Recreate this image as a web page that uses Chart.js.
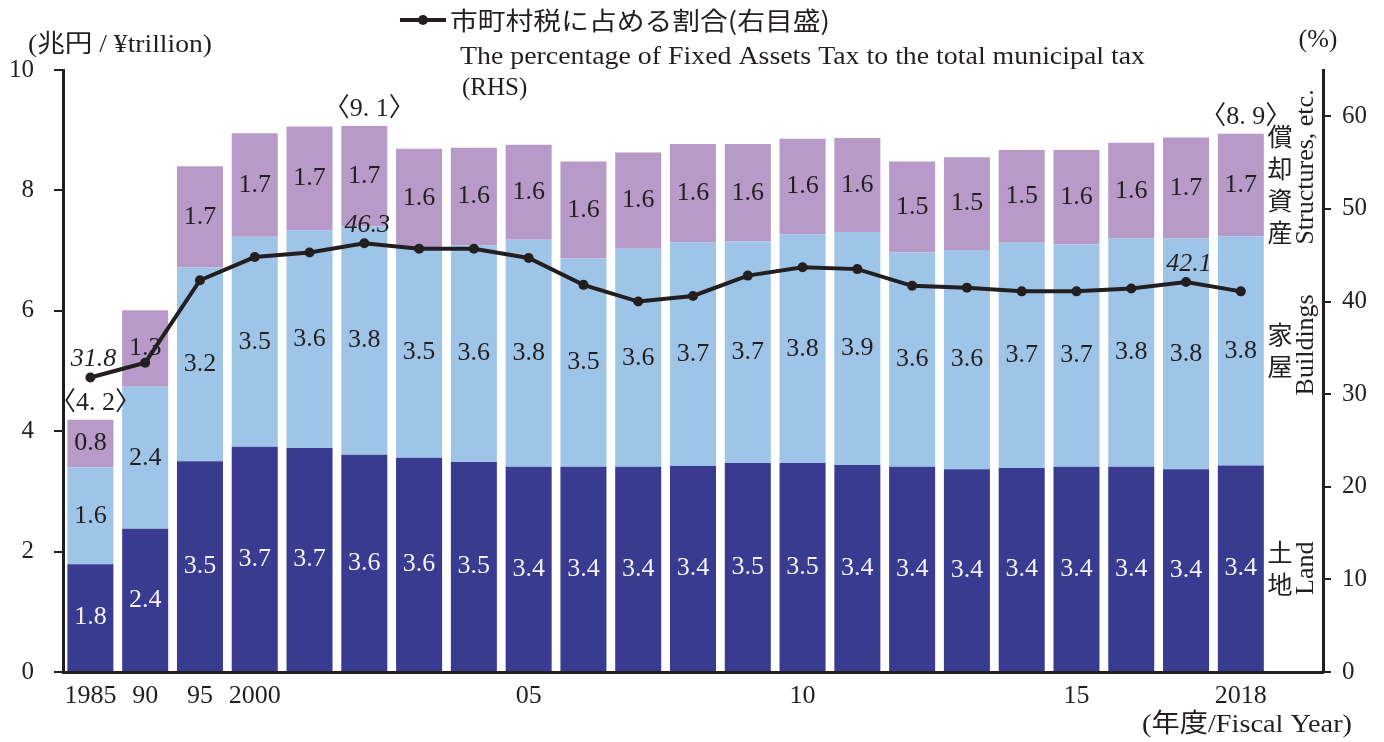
<!DOCTYPE html>
<html>
<head>
<meta charset="utf-8">
<script src="https://cdn.jsdelivr.net/npm/chart.js@4.4.0/dist/chart.umd.min.js"></script>
<style>
  body { margin: 0; background: #fff; }
  #wrap { width: 1384px; height: 742px; }
</style>
</head>
<body>
<div id="wrap"><canvas id="myChart"></canvas></div>
<script>
(function () {
  'use strict'

  // data (兆円 / %)
  var years = [1985, 1990, 1995, 2000, 2001, 2002, 2003, 2004, 2005, 2006, 2007,
    2008, 2009, 2010, 2011, 2012, 2013, 2014, 2015, 2016, 2017, 2018]
  var tickLabels = ['1985', '90', '95', '2000', '', '', '', '', '05', '', '', '',
    '', '10', '', '', '', '', '15', '', '', '2018']
  var land = [1.79, 2.38, 3.50, 3.74, 3.72, 3.61, 3.56, 3.49, 3.41, 3.41, 3.41,
    3.42, 3.47, 3.47, 3.44, 3.41, 3.37, 3.39, 3.41, 3.41, 3.37, 3.43]
  var buildings = [1.61, 2.36, 3.22, 3.49, 3.62, 3.79, 3.49, 3.60, 3.77, 3.46, 3.62,
    3.72, 3.68, 3.80, 3.87, 3.56, 3.64, 3.74, 3.69, 3.79, 3.83, 3.81]
  var structures = [0.79, 1.27, 1.68, 1.72, 1.72, 1.67, 1.64, 1.62, 1.58, 1.61, 1.60,
    1.63, 1.62, 1.59, 1.56, 1.51, 1.54, 1.54, 1.57, 1.59, 1.68, 1.70]
  var share = [31.8, 33.4, 42.3, 44.8, 45.3, 46.3, 45.7, 45.7, 44.7, 41.8, 40.0,
    40.6, 42.8, 43.7, 43.5, 41.7, 41.5, 41.1, 41.1, 41.4, 42.1, 41.1]
  var totalNoteIdx = [0, 5, 21]
  var shareNoteIdx = [0, 5, 20]
  var yTicksLeft = [0, 2, 4, 6, 8, 10]
  var yTicksRight = [0, 10, 20, 30, 40, 50, 60]

  var INK = '#231f20'
  var SERIF = '"Liberation Serif", "Noto Sans CJK JP", serif'
  var JP = '"Noto Sans CJK JP", sans-serif'

  // one empty slot after 2018 for the side captions
  var labels = tickLabels.concat([''])

  // draw text squeezed/stretched to a given width
  function fitText(c, s, x, y, w) {
    var m = c.measureText(s).width
    c.save()
    c.translate(x, y)
    c.scale(w / m, 1)
    c.fillText(s, 0, 0)
    c.restore()
  }

  var overlay = {
    id: 'overlay',
    afterDatasetDraw: function (chart, args) {
      var ds = chart.data.datasets[args.index]
      if (ds.type === 'line') return
      var c = chart.ctx
      c.save()
      c.font = '26px ' + SERIF
      c.textAlign = 'center'
      c.textBaseline = 'middle'
      c.fillStyle = ds.labelColor
      args.meta.data.forEach(function (bar, i) {
        if (ds.data[i] == null) return
        c.fillText(ds.data[i].toFixed(1), bar.x, (bar.y + bar.base) / 2)
      })
      c.restore()
    },
    afterDatasetsDraw: function (chart) {
      var c = chart.ctx
      var area = chart.chartArea
      var top = chart.getDatasetMeta(3)
      var line = chart.getDatasetMeta(0)
      c.save()
      c.fillStyle = INK
      c.textAlign = 'center'
      c.textBaseline = 'middle'

      // totals 〈x.x〉
      c.font = '26px ' + SERIF
      totalNoteIdx.forEach(function (i) {
        var t = land[i] + buildings[i] + structures[i]
        var s = t.toFixed(1).replace('.', '. ')
        c.fillText('〈' + s + '〉', top.data[i].x + 5, top.data[i].y - 17)
      })

      // share labels
      c.font = 'italic 26px ' + SERIF
      shareNoteIdx.forEach(function (i) {
        var p = line.data[i]
        c.fillText(share[i].toFixed(1), p.x + 3, p.y - 18)
      })

      // side captions
      var n = years.length - 1
      var cx = area.right - 43
      var ex = area.right - 17
      var segs = [
        { meta: chart.getDatasetMeta(3), jp: '償却資産', en: 'Structures, etc.', off: -18 },
        { meta: chart.getDatasetMeta(2), jp: '家屋', en: 'Buildings', off: -6 },
        { meta: chart.getDatasetMeta(1), jp: '土地', en: 'Land', off: 0 }
      ]
      segs.forEach(function (s) {
        var b = s.meta.data[n]
        var mid = (b.y + b.base) / 2
        c.font = '25px ' + JP
        var chars = s.jp.split('')
        var step = 32
        var y0 = mid - (chars.length - 1) * step / 2
        chars.forEach(function (ch, k) { c.fillText(ch, cx, y0 + k * step) })
        c.save()
        c.translate(ex, mid + s.off)
        c.rotate(-Math.PI / 2)
        c.font = '26px ' + SERIF
        c.fillText(s.en, 0, 0)
        c.restore()
      })

      // axis titles
      c.textAlign = 'left'
      c.font = '25px ' + SERIF
      fitText(c, '(兆円 / ¥trillion)', 28, 45, 184)
      c.textAlign = 'center'
      c.font = '26px ' + SERIF
      c.fillText('(%)', 1318, 40)
      c.textAlign = 'left'
      fitText(c, '(年度/Fiscal Year)', 1142, 725, 210)

      // legend
      c.strokeStyle = INK
      c.lineWidth = 4
      c.beginPath()
      c.moveTo(400, 20)
      c.lineTo(446, 20)
      c.stroke()
      c.beginPath()
      c.arc(423, 20, 5, 0, Math.PI * 2)
      c.fill()
      c.textAlign = 'left'
      c.font = '25px ' + JP
      fitText(c, '市町村税に占める割合(右目盛)', 450, 20, 380)
      c.font = '25px ' + SERIF
      fitText(c, 'The percentage of Fixed Assets Tax to the total municipal tax', 460, 57, 685)
      c.fillText('(RHS)', 462, 88)
      c.restore()
    }
  }

  var ctx = document.getElementById('myChart')
  var config = {
    data: {
      labels: labels,
      datasets: [{
        type: 'line',
        label: '市町村税に占める割合(右目盛)',
        data: share,
        yAxisID: 'y1',
        borderColor: INK,
        borderWidth: 4,
        pointRadius: 5,
        pointBackgroundColor: INK,
        pointBorderWidth: 0,
        lineTension: 0,
        order: 0
      }, {
        type: 'bar',
        label: '土地 Land',
        data: land,
        backgroundColor: '#383b90',
        labelColor: '#f4f2fb',
        stack: 's',
        order: 1
      }, {
        type: 'bar',
        label: '家屋 Buildings',
        data: buildings,
        backgroundColor: '#9ec5e8',
        labelColor: INK,
        stack: 's',
        order: 1
      }, {
        type: 'bar',
        label: '償却資産 Structures, etc.',
        data: structures,
        backgroundColor: '#b79ac8',
        labelColor: INK,
        stack: 's',
        order: 1
      }]
    },
    options: {
      responsive: true,
      maintainAspectRatio: false,
      animation: false,
      layout: { padding: { top: 70 } },
      datasets: { bar: { barPercentage: 0.84, categoryPercentage: 1 } },
      scales: {
        x: {
          stacked: true,
          afterFit: function (s) { s.height = 70 },
          grid: { drawOnChartArea: false, drawTicks: false },
          border: { color: INK, width: 3 },
          ticks: {
            autoSkip: false,
            maxRotation: 0,
            padding: 9,
            color: INK,
            font: { family: SERIF, size: 26 }
          }
        },
        y: {
          stacked: true,
          min: 0,
          max: 10,
          afterFit: function (s) { s.width = 63 },
          afterBuildTicks: function (s) {
            s.ticks = yTicksLeft.map(function (v) { return { value: v } })
          },
          grid: { drawOnChartArea: false, tickLength: 9, color: INK, lineWidth: 2 },
          border: { color: INK, width: 3 },
          ticks: { padding: 20, color: INK, font: { family: SERIF, size: 25 } }
        },
        y1: {
          position: 'right',
          min: 0,
          max: 65,
          afterFit: function (s) { s.width = 61 },
          afterBuildTicks: function (s) {
            s.ticks = yTicksRight.map(function (v) { return { value: v } })
          },
          grid: { drawOnChartArea: false, tickLength: 8, color: INK, lineWidth: 2 },
          border: { color: INK, width: 3 },
          ticks: { padding: 11, color: INK, font: { family: SERIF, size: 25 } }
        }
      },
      plugins: {
        legend: { display: false },
        tooltip: { enabled: false }
      }
    },
    plugins: [overlay]
  }
  var chart = new Chart(ctx, config)
})()
</script>
</body>
</html>
